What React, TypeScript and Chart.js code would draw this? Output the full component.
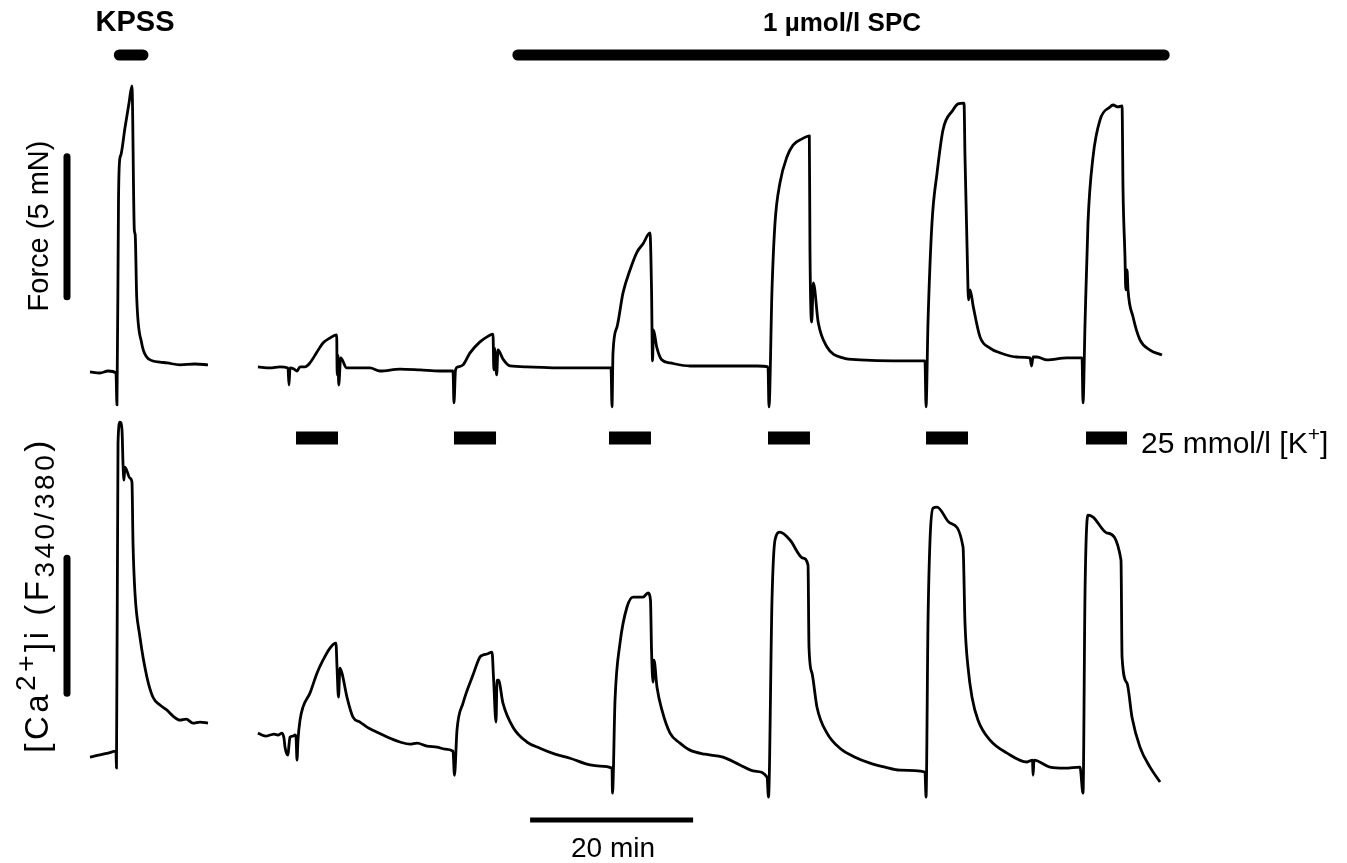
import React, { useEffect, useRef } from "react";
import { Chart, registerables } from "chart.js";

Chart.register(...registerables);

// ---------- DATA (time in min, force in mN, [Ca2+]i as F340/380 ratio) ----------
const FORCE_KPSS_T = [0, 1.23, 2.21, 3.19, 3.31, 3.5, 3.62, 3.8, 4.29, 4.79, 5.15, 5.44, 5.55, 5.73, 6.34, 6.96, 7.73, 8.59, 9.45, 11.04, 12.88, 14.48];
const FORCE_KPSS_V = [-0.14, -0.18, -0.11, -0.18, -1.32, 6.0, 7.36, 7.61, 8.57, 9.46, 10.07, 4.93, 4.75, 2.54, 0.89, 0.39, 0.25, 0.21, 0.18, 0.11, 0.14, 0.11];

const FORCE_MAIN_T = [20.61, 22.09, 23.31, 24.29, 24.42, 24.54, 25.03, 25.4, 25.77, 26.38, 26.99, 27.85, 28.59, 29.45, 30.27, 30.33, 30.43, 30.52, 30.76, 31.5, 31.9, 34.36, 35.58, 38.04, 40.49, 42.94, 44.54, 44.66, 44.85, 45.15, 45.77, 46.63, 47.85, 48.71, 49.45, 49.55, 49.63, 49.9, 50.06, 50.67, 51.53, 53.62, 57.67, 61.35, 63.93, 64.05, 64.17, 64.66, 65.4, 66.26, 67.12, 67.85, 68.71, 68.9, 69.02, 69.14, 69.53, 70.15, 71.17, 73.62, 77.67, 81.84, 83.19, 83.31, 83.68, 84.05, 84.66, 85.52, 86.26, 87.36, 88.26, 88.34, 88.55, 88.75, 89.36, 90.43, 92.39, 94.48, 98.53, 102.45, 102.58, 102.82, 103.31, 103.93, 104.66, 105.89, 106.5, 107.24, 107.36, 107.64, 107.79, 107.98, 108.38, 109.2, 110.43, 111.66, 113.74, 115.34, 115.52, 115.71, 116.2, 117.42, 119.88, 121.72, 121.84, 122.09, 122.45, 123.07, 123.93, 125.15, 125.52, 126.13, 126.63, 126.75, 126.99, 127.09, 127.24, 127.36, 127.98, 128.83, 130.06, 131.53];
const FORCE_MAIN_V = [0.04, 0, 0.04, 0, -0.61, 0, -0.04, -0.11, 0.04, 0.04, 0.18, 0.57, 0.89, 1.07, 1.18, -0.25, 0.46, -0.61, 0.36, 0, 0, 0, -0.11, -0.04, -0.07, -0.11, -0.11, -1.25, -0.07, 0.04, 0.11, 0.54, 0.93, 1.11, 1.21, -0.07, 0.71, -0.25, 0.64, 0.32, 0.07, 0.04, 0, 0, 0, -1.39, 0.54, 1.46, 2.68, 3.5, 4.14, 4.43, 4.82, 2.79, 0.25, 1.36, 0.75, 0.29, 0.18, 0.07, 0.07, 0.07, 0.04, -1.39, 2.79, 5.18, 6.61, 7.54, 7.96, 8.18, 8.29, 4.21, 1.64, 3.04, 1.61, 0.75, 0.36, 0.29, 0.25, 0.25, -1.39, 1.61, 5.18, 6.96, 8.5, 9.21, 9.43, 9.46, 7.54, 3.96, 2.43, 2.79, 2.18, 1.11, 0.71, 0.54, 0.39, 0.36, 0.07, 0.39, 0.39, 0.29, 0.36, 0.36, -1.25, 1.61, 5.18, 7.54, 8.86, 9.32, 9.39, 9.32, 9.36, 6.36, 3.96, 2.79, 3.5, 2.79, 1.82, 1.0, 0.64, 0.46];

const CA_KPSS_T = [0, 1.23, 2.21, 3.19, 3.25, 3.44, 3.68, 3.93, 4.05, 4.17, 4.29, 4.91, 5.15, 5.28, 5.52, 6.13, 6.99, 7.73, 8.59, 9.45, 10.2, 11.04, 11.8, 12.64, 13.5, 14.48];
const CA_KPSS_V = [1.048, 1.056, 1.063, 1.07, 1.007, 2.211, 2.289, 2.259, 2.137, 2.074, 2.122, 2.081, 2.067, 1.841, 1.656, 1.493, 1.344, 1.27, 1.241, 1.222, 1.2, 1.185, 1.189, 1.174, 1.178, 1.174];

const CA_MAIN_T = [20.61, 21.1, 21.6, 22.09, 22.58, 23.07, 23.56, 23.8, 23.93, 24.17, 24.29, 24.42, 24.54, 24.91, 25.15, 25.28, 25.4, 25.52, 25.77, 26.13, 26.99, 27.85, 28.59, 29.45, 30.18, 30.31, 30.49, 30.67, 30.92, 31.53, 32.27, 33.13, 33.99, 34.97, 35.95, 37.06, 38.04, 39.26, 40.12, 41.35, 42.58, 43.56, 44.54, 44.72, 45.03, 45.77, 46.99, 47.85, 48.22, 48.71, 49.33, 49.51, 49.82, 49.94, 50.12, 50.67, 51.9, 53.62, 55.21, 57.06, 58.9, 61.35, 62.58, 64.05, 64.11, 64.42, 65.03, 65.89, 66.63, 67.85, 68.47, 68.77, 68.9, 69.08, 69.2, 69.57, 70.18, 71.17, 72.39, 73.62, 75.46, 77.67, 79.75, 81.6, 83.07, 83.25, 83.68, 84.05, 84.66, 85.89, 87.48, 88.1, 88.22, 88.59, 89.2, 90.43, 92.02, 93.87, 95.71, 97.55, 99.39, 102.45, 102.58, 102.82, 103.07, 103.44, 103.93, 105.52, 107.12, 107.36, 107.73, 108.22, 108.96, 110.43, 112.52, 114.97, 115.64, 115.71, 115.83, 117.79, 119.63, 121.47, 121.84, 122.09, 122.45, 123.07, 124.79, 126.5, 126.63, 127.24, 127.85, 128.83, 130.06, 131.29];
const CA_MAIN_V = [1.137, 1.13, 1.126, 1.13, 1.133, 1.13, 1.137, 1.119, 1.085, 1.059, 1.056, 1.093, 1.122, 1.126, 1.13, 1.122, 1.037, 1.111, 1.185, 1.233, 1.285, 1.359, 1.407, 1.452, 1.47, 1.381, 1.27, 1.378, 1.359, 1.27, 1.196, 1.178, 1.159, 1.144, 1.13, 1.115, 1.104, 1.096, 1.1, 1.089, 1.085, 1.078, 1.07, 0.981, 1.148, 1.248, 1.352, 1.419, 1.426, 1.43, 1.437, 1.344, 1.178, 1.333, 1.333, 1.248, 1.159, 1.104, 1.081, 1.059, 1.044, 1.019, 1.015, 1.007, 0.915, 1.259, 1.47, 1.604, 1.641, 1.641, 1.656, 1.63, 1.444, 1.326, 1.407, 1.307, 1.222, 1.137, 1.1, 1.074, 1.059, 1.048, 1.019, 0.996, 0.974, 0.9, 1.63, 1.852, 1.881, 1.852, 1.785, 1.759, 1.456, 1.359, 1.233, 1.137, 1.081, 1.048, 1.026, 1.011, 1.0, 0.993, 0.9, 1.544, 1.852, 1.97, 1.974, 1.915, 1.826, 1.544, 1.381, 1.27, 1.185, 1.111, 1.063, 1.03, 1.037, 0.981, 1.037, 1.011, 1.007, 1.011, 0.915, 1.667, 1.944, 1.937, 1.878, 1.778, 1.419, 1.322, 1.196, 1.085, 1.011, 0.956];

// stimulus intervals (min)
const KPSS_INTERVAL = [3.6, 6.5];
const SPC_INTERVAL = [52.5, 131.8];
const K_ON = [25.28, 44.66, 63.68, 83.19, 102.58, 122.21];
const K_OFF = [30.43, 49.82, 68.83, 88.34, 107.73, 127.24];

// calibration bars
const FORCE_BAR_MN = 5;
const CA_BAR_RATIO = 0.5;
const TIME_BAR_MIN = 20;

// ---------- LAYOUT ----------
const W = 1347;
const H = 863;
const X_RANGE = [-11.04, 154.23];
const FORCE_RANGE = [-17.68, 13.14];
const CA_RANGE = [0.656, 3.852];
const LANE_TOP = 55 / H;
const LANE_K = 438 / H;
const LANE_TIME = 820 / H;
const CAL_X = -2.82;
const FORCE_BAR_BASE = 2.54;
const CA_BAR_BASE = 1.285;
const TIME_BAR_START = 54;
const FONT = '"Liberation Sans", Arial, Helvetica, sans-serif';

const zip = (t: number[], v: number[]) => t.map((x, i) => ({ x, y: v[i] as number | null }));

function buildDatasets() {
  const force = [...zip(FORCE_KPSS_T, FORCE_KPSS_V), { x: 17, y: null }, ...zip(FORCE_MAIN_T, FORCE_MAIN_V)];
  const ca = [...zip(CA_KPSS_T, CA_KPSS_V), { x: 17, y: null }, ...zip(CA_MAIN_T, CA_MAIN_V)];
  const kBars: { x: number; y: number | null }[] = [];
  K_ON.forEach((on, i) => {
    kBars.push({ x: on, y: LANE_K }, { x: K_OFF[i], y: LANE_K });
    if (i < K_ON.length - 1) kBars.push({ x: (K_OFF[i] + K_ON[i + 1]) / 2, y: null });
  });
  const base = { pointRadius: 0, borderColor: "#000", fill: false, tension: 0, borderJoinStyle: "round" as const };
  const trace = { ...base, borderWidth: 2.8, cubicInterpolationMode: "monotone" as const };
  return [
    { ...trace, label: "Force", data: force, yAxisID: "yF" },
    { ...trace, label: "Ca", data: ca, yAxisID: "yC" },
    { ...base, label: "KPSS", data: [{ x: KPSS_INTERVAL[0], y: LANE_TOP }, { x: KPSS_INTERVAL[1], y: LANE_TOP }], yAxisID: "yL", borderWidth: 11, borderCapStyle: "round" as const },
    { ...base, label: "SPC", data: [{ x: SPC_INTERVAL[0], y: LANE_TOP }, { x: SPC_INTERVAL[1], y: LANE_TOP }], yAxisID: "yL", borderWidth: 11, borderCapStyle: "round" as const },
    { ...base, label: "K", data: kBars, yAxisID: "yL", borderWidth: 13, borderCapStyle: "butt" as const },
    { ...base, label: "TimeBar", data: [{ x: TIME_BAR_START, y: LANE_TIME }, { x: TIME_BAR_START + TIME_BAR_MIN, y: LANE_TIME }], yAxisID: "yL", borderWidth: 5, borderCapStyle: "butt" as const },
    { ...base, label: "ForceBar", data: [{ x: CAL_X, y: FORCE_BAR_BASE }, { x: CAL_X, y: FORCE_BAR_BASE + FORCE_BAR_MN }], yAxisID: "yF", borderWidth: 7, borderCapStyle: "round" as const },
    { ...base, label: "CaBar", data: [{ x: CAL_X, y: CA_BAR_BASE }, { x: CAL_X, y: CA_BAR_BASE + CA_BAR_RATIO }], yAxisID: "yC", borderWidth: 7, borderCapStyle: "round" as const },
  ];
}

export default function App() {
  const ref = useRef<HTMLCanvasElement | null>(null);
  useEffect(() => {
    if (!ref.current) return;
    const chart = new Chart(ref.current, {
      type: "line",
      data: { datasets: buildDatasets() as any },
      options: {
        animation: false,
        responsive: true,
        maintainAspectRatio: false,
        events: [],
        layout: { padding: 0 },
        plugins: { legend: { display: false }, tooltip: { enabled: false }, title: { display: false } },
        scales: {
          x: { type: "linear", display: false, min: X_RANGE[0], max: X_RANGE[1] },
          yF: { type: "linear", display: false, min: FORCE_RANGE[0], max: FORCE_RANGE[1] },
          yC: { type: "linear", display: false, min: CA_RANGE[0], max: CA_RANGE[1] },
          yL: { type: "linear", display: false, min: 0, max: 1, reverse: true },
        },
      },
    });
    return () => chart.destroy();
  }, []);

  const txt: React.CSSProperties = { position: "absolute", fontFamily: FONT, fontSize: 28, lineHeight: 1, color: "#000", whiteSpace: "nowrap" };
  const sup: React.CSSProperties = { fontSize: "0.7em", position: "relative", top: "-0.55em", verticalAlign: "baseline" };
  const caSup: React.CSSProperties = { fontSize: "0.85em", position: "relative", top: "-0.45em", verticalAlign: "baseline" };
  const caSub: React.CSSProperties = { fontSize: "0.85em", position: "relative", top: "0.22em", verticalAlign: "baseline" };

  return (
    <div style={{ position: "fixed", left: 0, top: 0, width: W, height: H, background: "#fff", overflow: "hidden" }}>
      <div style={{ position: "absolute", left: 0, top: 0, width: W, height: H }}>
        <canvas ref={ref} />
      </div>
      <div style={{ ...txt, left: 135, top: 7, fontSize: 29, fontWeight: "bold", transform: "translateX(-50%)" }}>KPSS</div>
      <div style={{ ...txt, left: 842, top: 9, fontSize: 26, fontWeight: "bold", transform: "translateX(-50%)" }}>1 µmol/l SPC</div>
      <div style={{ ...txt, left: 1141, top: 428, fontSize: 30 }}>
        25 mmol/l [K<span style={sup}>+</span>]
      </div>
      <div style={{ ...txt, left: 613, top: 834, transform: "translateX(-50%)" }}>20 min</div>
      <div style={{ ...txt, left: 38, top: 226, fontSize: 29, transform: "translate(-50%, -50%) rotate(-90deg)" }}>Force (5 mN)</div>
      <div style={{ ...txt, left: 37, top: 595, fontSize: 33, letterSpacing: 3.5, transform: "translate(-50%, -50%) rotate(-90deg)" }}>
        [Ca<span style={caSup}>2+</span>]i (F<span style={caSub}>340/380</span>)
      </div>
    </div>
  );
}
